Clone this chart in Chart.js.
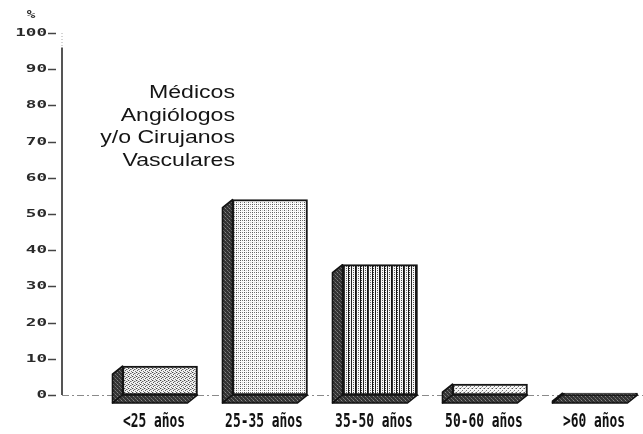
<!DOCTYPE html>
<html lang="es">
<head>
<meta charset="utf-8">
<title>Médicos Angiólogos y/o Cirujanos Vasculares por edad</title>
<script src="https://cdn.jsdelivr.net/npm/chart.js@4/dist/chart.umd.min.js"></script>
<style>
  html, body { margin: 0; padding: 0; background: #ffffff; }
  #chart { display: block; }
</style>
</head>
<body>
<canvas id="chart" width="643" height="434"></canvas>
<script>
// Age groups and share of physicians (%) in each group
const categories = ['<25 años', '25-35 años', '35-50 años', '50-60 años', '>60 años'];
const percentages = [8, 54, 36, 3, 0.5];

// Vertical axis ticks
const yTickValues = [0, 10, 20, 30, 40, 50, 60, 70, 80, 90, 100];
const yTickLabels = ['0', '10', '20', '30', '40', '50', '60', '70', '80', '90', '100'];

// Caption lines
const captionLines = ['Médicos', 'Angiólogos', 'y/o Cirujanos', 'Vasculares'];

// ---- fill patterns for the printed look ----
function makePattern(w, h, bg, dots) {
  const c = document.createElement('canvas');
  c.width = w; c.height = h;
  const g = c.getContext('2d');
  g.fillStyle = bg;
  g.fillRect(0, 0, w, h);
  dots.forEach(([x, y, col]) => { g.fillStyle = col; g.fillRect(x, y, 1, 1); });
  return g.createPattern(c, 'repeat');
}
function columns(w, h, bg, cols) {
  const dots = [];
  cols.forEach(([x, col, step]) => {
    for (let y = 0; y < h; y += step) dots.push([x, y, col]);
  });
  return makePattern(w, h, bg, dots);
}

const stipple = makePattern(4, 4, '#f0f0f0', [
  [0, 0, '#444'], [2, 1, '#666'], [1, 2, '#555'], [3, 3, '#777'], [3, 1, '#aaa'], [1, 0, '#bbb']
]);
const dotGrid = makePattern(4, 4, '#fafafa', [
  [0, 0, '#555'], [0, 2, '#666'], [2, 0, '#777'], [2, 2, '#ccc']
]);
const stripes = columns(12, 4, '#f6f6f6', [
  [0, '#111', 1], [1, '#444', 2], [3, '#222', 1], [5, '#555', 2],
  [7, '#111', 1], [8, '#333', 1], [10, '#666', 2]
]);
const lightStipple = makePattern(4, 4, '#f6f6f6', [
  [0, 0, '#555'], [2, 2, '#777'], [3, 0, '#aaa'], [1, 3, '#bbb']
]);
const darkSide = makePattern(4, 4, '#333', [
  [1, 0, '#888'], [3, 2, '#777'], [0, 3, '#666'], [2, 1, '#555']
]);

const frontFills = [stipple, dotGrid, stripes, lightStipple, darkSide];

// ---- plugin: baseline, extruded faces, axis, labels ----
const DEPTH_X = 10, DEPTH_Y = 8;

const printedChart = {
  id: 'printedChart',
  beforeDatasetsDraw(chart) {
    const ctx = chart.ctx;
    const area = chart.chartArea;
    const ys = chart.scales.y;
    const base = ys.getPixelForValue(0);

    // dashed baseline behind the bars
    ctx.save();
    ctx.strokeStyle = '#8a8a8a';
    ctx.lineWidth = 1.2;
    ctx.setLineDash([7, 3, 2, 3]);
    ctx.beginPath();
    ctx.moveTo(area.left, base + 0.5);
    ctx.lineTo(area.right, base + 0.5);
    ctx.stroke();
    ctx.restore();

    // side and bottom faces of each bar
    const meta = chart.getDatasetMeta(0);
    meta.data.forEach((bar) => {
      const p = bar.getProps(['x', 'y', 'base', 'width'], true);
      const l = p.x - p.width / 2, r = p.x + p.width / 2;
      const t = Math.min(p.y, p.base), b = Math.max(p.y, p.base);
      ctx.save();
      ctx.fillStyle = darkSide;
      ctx.strokeStyle = '#111';
      ctx.lineWidth = 1.6;
      ctx.lineJoin = 'round';
      // left side
      ctx.beginPath();
      ctx.moveTo(l, t);
      ctx.lineTo(l - DEPTH_X, t + DEPTH_Y);
      ctx.lineTo(l - DEPTH_X, b + DEPTH_Y);
      ctx.lineTo(l, b);
      ctx.closePath();
      ctx.fill();
      ctx.stroke();
      // bottom
      ctx.beginPath();
      ctx.moveTo(l, b);
      ctx.lineTo(r, b);
      ctx.lineTo(r - DEPTH_X, b + DEPTH_Y);
      ctx.lineTo(l - DEPTH_X, b + DEPTH_Y);
      ctx.closePath();
      ctx.fill();
      ctx.stroke();
      ctx.restore();
    });
  },
  afterDraw(chart) {
    const ctx = chart.ctx;
    const area = chart.chartArea;
    const ys = chart.scales.y;
    const xs = chart.scales.x;

    ctx.save();
    // vertical axis line
    ctx.strokeStyle = '#555';
    ctx.lineWidth = 2;
    ctx.beginPath();
    ctx.moveTo(area.left, ys.getPixelForValue(96));
    ctx.lineTo(area.left, ys.getPixelForValue(0));
    ctx.stroke();
    ctx.strokeStyle = '#aaa';
    ctx.lineWidth = 1;
    ctx.setLineDash([1, 2]);
    ctx.beginPath();
    ctx.moveTo(area.left, ys.getPixelForValue(100));
    ctx.lineTo(area.left, ys.getPixelForValue(96));
    ctx.stroke();
    ctx.setLineDash([]);

    // y ticks: short dash + wide label
    ctx.fillStyle = '#2a2a2a';
    ctx.strokeStyle = '#444';
    ctx.lineWidth = 1.5;
    ctx.font = 'bold 11px "DejaVu Sans Mono"';
    ctx.textAlign = 'right';
    ctx.textBaseline = 'middle';
    yTickValues.forEach((v, i) => {
      const y = Math.round(ys.getPixelForValue(v)) + 0.5;
      ctx.beginPath();
      ctx.moveTo(area.left - 14, y);
      ctx.lineTo(area.left - 6, y);
      ctx.stroke();
      ctx.save();
      ctx.translate(area.left - 15, y);
      ctx.scale(1.6, 1);
      ctx.fillText(yTickLabels[i], 0, 0);
      ctx.restore();
    });

    // unit mark above the axis
    ctx.save();
    ctx.translate(31, 15);
    ctx.scale(1.3, 1);
    ctx.font = 'bold 11px "DejaVu Sans Mono"';
    ctx.textAlign = 'center';
    ctx.fillText('%', 0, 0);
    ctx.restore();

    // category labels under the bars
    ctx.fillStyle = '#111';
    ctx.font = 'bold 19px "DejaVu Sans Mono"';
    ctx.textAlign = 'center';
    ctx.textBaseline = 'alphabetic';
    categories.forEach((label, i) => {
      const x = xs.getPixelForValue(i + 1) - 6;
      ctx.save();
      ctx.translate(x, 427);
      ctx.scale(0.68, 1);
      ctx.fillText(label, 0, 0);
      ctx.restore();
    });

    // caption
    ctx.fillStyle = '#151515';
    ctx.font = '17.5px "Liberation Sans", Arial, sans-serif';
    ctx.textAlign = 'right';
    captionLines.forEach((line, i) => {
      ctx.save();
      ctx.translate(235, 98 + i * 22.7);
      ctx.scale(1.32, 1);
      ctx.fillText(line, 0, 0);
      ctx.restore();
    });
    ctx.restore();
  }
};

new Chart(document.getElementById('chart'), {
  type: 'bar',
  data: {
    datasets: [{
      data: percentages.map((v, i) => ({ x: i + 1, y: v })),
      backgroundColor: frontFills,
      borderColor: '#151515',
      borderWidth: 2,
      borderSkipped: false,
      barThickness: 75
    }]
  },
  options: {
    responsive: false,
    animation: false,
    devicePixelRatio: 1,
    layout: { padding: { left: 62, top: 33, right: 0, bottom: 39 } },
    scales: {
      x: { type: 'linear', min: 0.109, max: 5.391, offset: false, display: false },
      y: { min: 0, max: 100, display: false }
    },
    plugins: {
      legend: { display: false },
      tooltip: { enabled: false }
    }
  },
  plugins: [printedChart]
});
</script>
</body>
</html>
